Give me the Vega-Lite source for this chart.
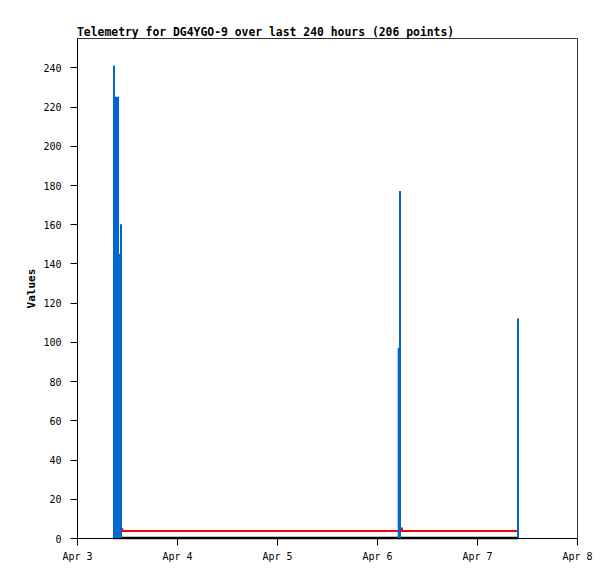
{
  "$schema": "https://vega.github.io/schema/vega-lite/v6.json",
  "width": 500,
  "height": 500,
  "autosize": {"type": "none"},
  "padding": {"left": 77, "top": 38, "right": 38, "bottom": 41},
  "background": "white",
  "config": {
    "view": {"stroke": "#333", "strokeWidth": 1},
    "font": "DejaVu Sans Mono",
    "axis": {"labelFont": "DejaVu Sans Mono", "labelFontSize": 10, "labelColor": "#000", "domainColor": "#000", "tickColor": "#000", "tickSize": 7, "grid": false}
  },
  "title": {
    "text": "Telemetry for DG4YGO-9 over last 240 hours (206 points)",
    "anchor": "start",
    "frame": "group",
    "font": "DejaVu Sans Mono",
    "fontSize": 11.4,
    "fontWeight": "bold",
    "color": "#000",
    "offset": 0
  },
  "datasets": {
    "bars": [
      {"start": "2024-04-03T08:38:00Z", "end": "2024-04-03T09:07:00Z", "value": 241},
      {"start": "2024-04-03T09:07:00Z", "end": "2024-04-03T10:05:00Z", "value": 225},
      {"start": "2024-04-03T10:05:00Z", "end": "2024-04-03T10:19:00Z", "value": 145},
      {"start": "2024-04-03T10:19:00Z", "end": "2024-04-03T10:48:00Z", "value": 160},
      {"start": "2024-04-06T04:58:00Z", "end": "2024-04-06T05:17:00Z", "value": 97},
      {"start": "2024-04-06T05:17:00Z", "end": "2024-04-06T05:46:00Z", "value": 177},
      {"start": "2024-04-07T09:36:00Z", "end": "2024-04-07T10:05:00Z", "value": 112}
    ],
    "red": [
      {"time": "2024-04-03T10:42:00Z", "value": 4.5},
      {"time": "2024-04-03T10:54:00Z", "value": 3.6},
      {"time": "2024-04-06T05:36:00Z", "value": 4.8},
      {"time": "2024-04-06T06:00:00Z", "value": 3.6},
      {"time": "2024-04-07T09:42:00Z", "value": 3.6}
    ],
    "black": [
      {"time": "2024-04-03T08:38:00Z", "value": 0},
      {"time": "2024-04-07T09:54:00Z", "value": 0}
    ]
  },
  "layer": [
    {
      "data": {"name": "red"},
      "mark": {"type": "line", "color": "#ff0000", "strokeWidth": 2, "interpolate": "step-after"},
      "encoding": {
        "x": {"field": "time", "type": "temporal"},
        "y": {"field": "value", "type": "quantitative"}
      }
    },
    {
      "data": {"name": "black"},
      "mark": {"type": "line", "color": "#000000", "strokeWidth": 2.5},
      "encoding": {
        "x": {"field": "time", "type": "temporal"},
        "y": {"field": "value", "type": "quantitative"}
      }
    },
    {
      "data": {"name": "bars"},
      "mark": {"type": "rect", "color": "#0066cc"},
      "encoding": {
        "x": {"field": "start", "type": "temporal"},
        "x2": {"field": "end"},
        "y": {"field": "value", "type": "quantitative"},
        "y2": {"datum": 0}
      }
    },
    {
      "data": {"values": [{}]},
      "mark": {"type": "point", "opacity": 0},
      "encoding": {
        "x": {
          "datum": {"year": 2024, "month": 4, "date": 3, "utc": true},
          "type": "temporal",
          "scale": {"type": "utc", "domain": [{"year": 2024, "month": 4, "date": 3, "utc": true}, {"year": 2024, "month": 4, "date": 8, "utc": true}]},
          "axis": {"title": null, "format": "%b %-d", "tickCount": {"interval": "day", "step": 1}, "labelPadding": 6, "labelFlush": false}
        },
        "y": {
          "datum": 0,
          "type": "quantitative",
          "scale": {"domain": [0, 255], "nice": false},
          "axis": {"title": "Values", "titleFont": "DejaVu Sans Mono", "titleFontSize": 11, "titleFontWeight": "bold", "titleColor": "#000", "titleX": -46, "titleY": 250, "titleAngle": -90, "titleAlign": "center", "titleBaseline": "middle", "values": [0, 20, 40, 60, 80, 100, 120, 140, 160, 180, 200, 220, 240], "labelPadding": 9, "labelOffset": 1}
        }
      }
    }
  ]
}
